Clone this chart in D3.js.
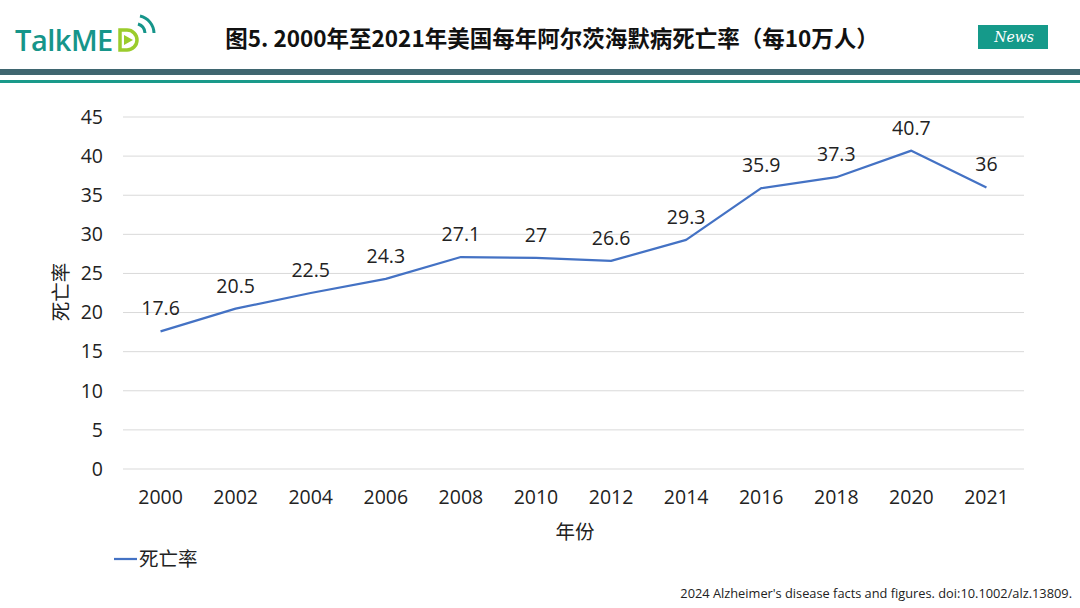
<!DOCTYPE html>
<meta charset="utf-8">
<script src="https://cdn.jsdelivr.net/npm/d3@7"></script>
<style>
  body { margin: 0; background: #fff; }
  svg { display: block; font-family: "Noto Sans CJK SC", "Open Sans", sans-serif; }
</style>
<body>
<div id="draw"></div>
</body>
<script>

  var years = ["2000","2002","2004","2006","2008","2010","2012","2014","2016","2018","2020","2021"];
  var rates = [17.6, 20.5, 22.5, 24.3, 27.1, 27, 26.6, 29.3, 35.9, 37.3, 40.7, 36];
  var yTicks = [0, 5, 10, 15, 20, 25, 30, 35, 40, 45];
  var labels = ["17.6","20.5","22.5","24.3","27.1","27","26.6","29.3","35.9","37.3","40.7","36"];

  var width = 1080;
  var height = 608;
  var margins = {top: 117, bottom: 139, left: 123, right: 56};
  var chartWidth = width - margins.left - margins.right;
  var chartHeight = height - margins.top - margins.bottom;

  var svg = d3.select("#draw")
    .append("svg")
    .attr("width", width)
    .attr("height", height);

  // header: logo, title, badge, rule lines
  var logo = svg.append("g");
  logo.append("text")
    .attr("x", 15).attr("y", 51)
    .style("font-family", "'Open Sans', sans-serif")
    .style("font-size", "29px")
    .style("font-weight", "600")
    .style("letter-spacing", "-0.5px")
    .style("fill", "#16958a")
    .text("TalkME");
  // "D" with play triangle
  logo.append("path")
    .attr("d", "M120,30 L127,30 A10,10 0 0 1 127,50 L120,50 Z")
    .style("fill", "none").style("stroke", "#9bcc2c").style("stroke-width", 3.5);
  logo.append("path")
    .attr("d", "M124,35 L133,40 L124,45 Z")
    .style("fill", "#9bcc2c");
  logo.append("path")
    .attr("d", "M138,24 A10,10 0 0 1 145,33")
    .style("fill", "none").style("stroke", "#16958a").style("stroke-width", 3);
  logo.append("path")
    .attr("d", "M140,16 A18,18 0 0 1 154,33")
    .style("fill", "none").style("stroke", "#16958a").style("stroke-width", 3);

  svg.append("text")
    .attr("x", 552).attr("y", 47)
    .attr("text-anchor", "middle")
    .style("font-size", "22.5px")
    .style("font-weight", "bold")
    .style("fill", "#111")
    .text("图5. 2000年至2021年美国每年阿尔茨海默病死亡率（每10万人）");

  svg.append("rect")
    .attr("x", 978).attr("y", 25).attr("width", 70).attr("height", 24)
    .style("fill", "#159a8a");
  svg.append("text")
    .attr("x", 1014).attr("y", 42)
    .attr("text-anchor", "middle")
    .style("font-family", "'DejaVu Serif', serif")
    .style("font-style", "italic")
    .style("font-size", "14px")
    .style("fill", "#fff")
    .text("News");

  svg.append("rect").attr("x", 0).attr("y", 69).attr("width", width).attr("height", 6).style("fill", "#3f6670");
  svg.append("rect").attr("x", 0).attr("y", 80).attr("width", width).attr("height", 3).style("fill", "#1a9a8a");

  var chart = svg.append("g")
    .attr("transform", "translate(" + margins.left + "," + margins.top + ")");

  var x = d3.scaleBand().domain(years).range([0, chartWidth]);
  var y = d3.scaleLinear().domain([0, 45]).range([chartHeight, 0]);

  // gridlines
  chart.selectAll("line.grid")
    .data(yTicks)
    .enter().append("line")
    .attr("class", "grid")
    .attr("x1", 0).attr("x2", chartWidth)
    .attr("y1", function(d){ return y(d); })
    .attr("y2", function(d){ return y(d); })
    .style("stroke", "#d9d9d9")
    .style("stroke-width", 1);

  var yAxis = chart.append("g")
    .call(d3.axisLeft(y).tickValues(yTicks).tickSize(0).tickPadding(20));
  yAxis.select(".domain").remove();
  yAxis.selectAll("text")
    .style("font-family", "'Open Sans', sans-serif")
    .style("font-size", "19.5px")
    .style("fill", "#222");

  var xAxis = chart.append("g")
    .attr("transform", "translate(0," + chartHeight + ")")
    .call(d3.axisBottom(x).tickSize(0).tickPadding(21));
  xAxis.select(".domain").remove();
  xAxis.selectAll("text")
    .style("font-family", "'Open Sans', sans-serif")
    .style("font-size", "19.5px")
    .style("fill", "#222");

  var line = d3.line()
    .x(function(d, i){ return x(years[i]) + x.bandwidth() / 2; })
    .y(function(d){ return y(d); });

  chart.append("path")
    .datum(rates)
    .attr("d", line)
    .style("fill", "none")
    .style("stroke", "#4472c4")
    .style("stroke-width", 2.25)
    .style("stroke-linejoin", "round");

  chart.selectAll("text.lbl")
    .data(rates)
    .enter().append("text")
    .attr("class", "lbl")
    .attr("x", function(d, i){ return x(years[i]) + x.bandwidth() / 2; })
    .attr("y", function(d){ return y(d) - 16; })
    .attr("text-anchor", "middle")
    .style("font-family", "'Open Sans', sans-serif")
    .style("font-size", "19.5px")
    .style("fill", "#222")
    .text(function(d, i){ return labels[i]; });

  // axis titles
  svg.append("text")
    .attr("x", 575).attr("y", 539)
    .attr("text-anchor", "middle")
    .style("font-size", "19.5px")
    .style("fill", "#222")
    .text("年份");

  svg.append("text")
    .attr("transform", "translate(68,292) rotate(-90)")
    .attr("text-anchor", "middle")
    .style("font-size", "19.5px")
    .style("fill", "#222")
    .text("死亡率");

  // legend
  svg.append("line")
    .attr("x1", 114).attr("x2", 137).attr("y1", 559).attr("y2", 559)
    .style("stroke", "#4472c4").style("stroke-width", 2.25);
  svg.append("text")
    .attr("x", 139).attr("y", 566)
    .style("font-size", "19.5px")
    .style("fill", "#222")
    .text("死亡率");

  // source
  svg.append("text")
    .attr("x", 1072).attr("y", 598)
    .attr("text-anchor", "end")
    .style("font-family", "'Open Sans', sans-serif")
    .style("font-size", "12.8px")
    .style("fill", "#222")
    .text("2024 Alzheimer's disease facts and figures. doi:10.1002/alz.13809.");

</script>
